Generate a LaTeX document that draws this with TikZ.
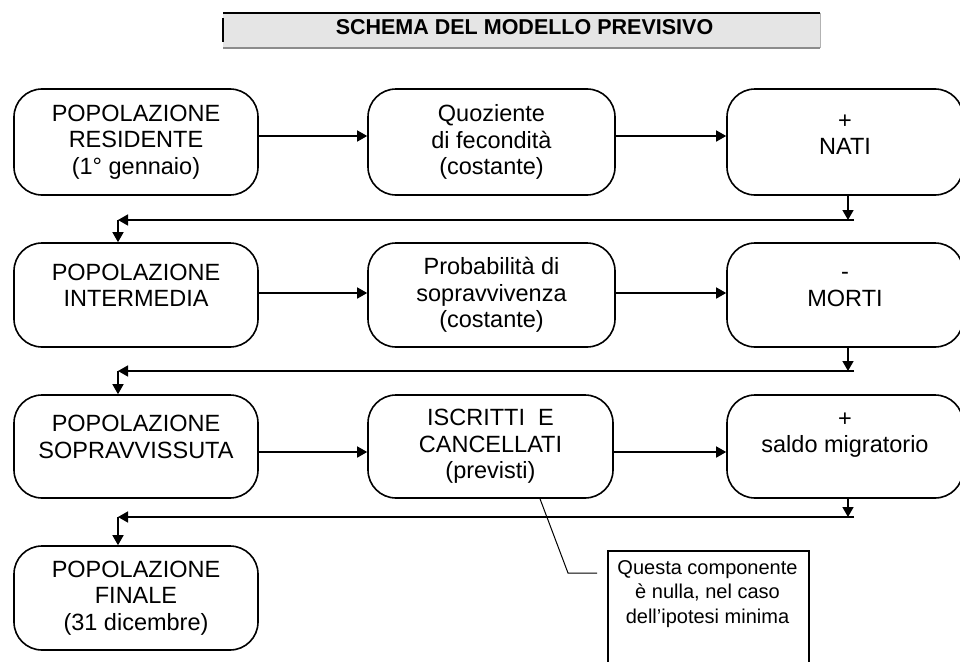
\documentclass[tikz,border=0pt]{standalone}
\usepackage{fontspec}
\setmainfont{Liberation Sans}
\usetikzlibrary{arrows.meta}
\newcommand\myht{\rule{0pt}{17pt}}
\newcommand\mydp[1]{\rule[-#1pt]{0pt}{0pt}}
\begin{document}
\begin{tikzpicture}[x=1pt,y=-1pt,
  box/.style={draw,line width=1.6pt,rounded corners=28pt,align=center,inner sep=0pt,
    font=\fontsize{23.5}{26.7}\selectfont},
  arr/.style={line width=1.5pt,-{Triangle[length=10pt,width=11pt]}},
  notefont/.style={font=\fontsize{20}{24.5}\selectfont}]
\useasboundingbox (0,0) rectangle (960,661);
\clip (0,0) rectangle (960,661);
% title bar
\fill[black!10] (223,13) rectangle (820,48);
\draw[line width=1.2pt] (223,13) -- (820,13);
\draw[black!45,line width=1.2pt] (223,48) -- (820,48);
\draw[line width=1.2pt] (223,18) -- (223,42);
\draw[black!30,line width=1pt] (820,13) -- (820,48);
\node[font=\bfseries\fontsize{21.5}{24}\selectfont,inner sep=0pt] (title) at (524.5,27.5) {SCHEMA DEL MODELLO PREVISIVO};
% row 1
\node[box,minimum width=244pt,minimum height=106pt] (A) at (136,142) {POPOLAZIONE\\RESIDENTE\\(1° gennaio)};
\node[box,minimum width=247pt,minimum height=106pt] (B) at (491.5,142) {Quoziente\\di fecondità\\(costante)};
\node[box,minimum width=236pt,minimum height=106pt] (C) at (845,142) {\myht+\\NATI\mydp{18}};
% row 2
\node[box,minimum width=244pt,minimum height=104pt] (D) at (136,295) {\myht POPOLAZIONE\\INTERMEDIA\mydp{20}};
\node[box,minimum width=247pt,minimum height=104pt] (E) at (491.5,295) {Probabilità di\\sopravvivenza\\(costante)};
\node[box,minimum width=236pt,minimum height=104pt] (F) at (845,295) {\myht-\\MORTI\mydp{21}};
% row 3
\node[box,minimum width=244pt,minimum height=103pt] (G) at (136,446.5) {\myht POPOLAZIONE\\SOPRAVVISSUTA\mydp{20}};
\node[box,minimum width=245pt,minimum height=103pt] (H) at (490.5,446.5) {ISCRITTI\ \ E\\CANCELLATI\\(previsti)};
\node[box,minimum width=236pt,minimum height=103pt] (I) at (845,446.5) {\myht+\\saldo migratorio\mydp{31}};
% row 4
\node[box,minimum width=244pt,minimum height=104pt] (J) at (136,598) {POPOLAZIONE\\FINALE\\(31 dicembre)};
% horizontal arrows
\draw[arr] ([yshift=6pt]A.east) -- ([yshift=6pt]B.west);
\draw[arr] ([yshift=6pt]B.east) -- ([yshift=6pt]C.west);
\draw[arr] ([yshift=2pt]D.east) -- ([yshift=2pt]E.west);
\draw[arr] ([yshift=2pt]E.east) -- ([yshift=2pt]F.west);
\draw[arr] ([yshift=-5.5pt]G.east) -- ([yshift=-5.5pt]H.west);
\draw[arr] ([yshift=-5.5pt]H.east) -- ([yshift=-5.5pt]I.west);
% return paths
\coordinate (r1) at (848,220); \coordinate (l1) at (118,220);
\coordinate (r2) at (848,371); \coordinate (l2) at (118,371);
\coordinate (r3) at (848,517); \coordinate (l3) at (118,517);
\draw[arr] (C.south -| r1) -- (r1);
\draw[arr] ([xshift=6pt]r1) -- (l1);
\draw[arr] (l1) -- (l1 |- D.north);
\draw[arr] (F.south -| r2) -- (r2);
\draw[arr] ([xshift=6pt]r2) -- (l2);
\draw[arr] (l2) -- (l2 |- G.north);
\draw[arr] (I.south -| r3) -- (r3);
\draw[arr] ([xshift=6pt]r3) -- (l3);
\draw[arr] (l3) -- (l3 |- J.north);
% callout
\node[draw,line width=2pt,minimum width=201pt,minimum height=140pt,anchor=north west,inner sep=0pt] (nbox) at (607,550) {};
\node[notefont,anchor=north,inner sep=0pt,align=center] (note) at (707.5,559) {\rule{0pt}{15pt}Questa componente\\è nulla, nel caso\\dell’ipotesi minima};
\coordinate (k0) at (540,0);
\coordinate (k1) at (568,573);
\coordinate (k2) at (597,573);
\draw[line width=1pt] (H.south -| k0) -- (k1) -- (k2);
\end{tikzpicture}
\end{document}
